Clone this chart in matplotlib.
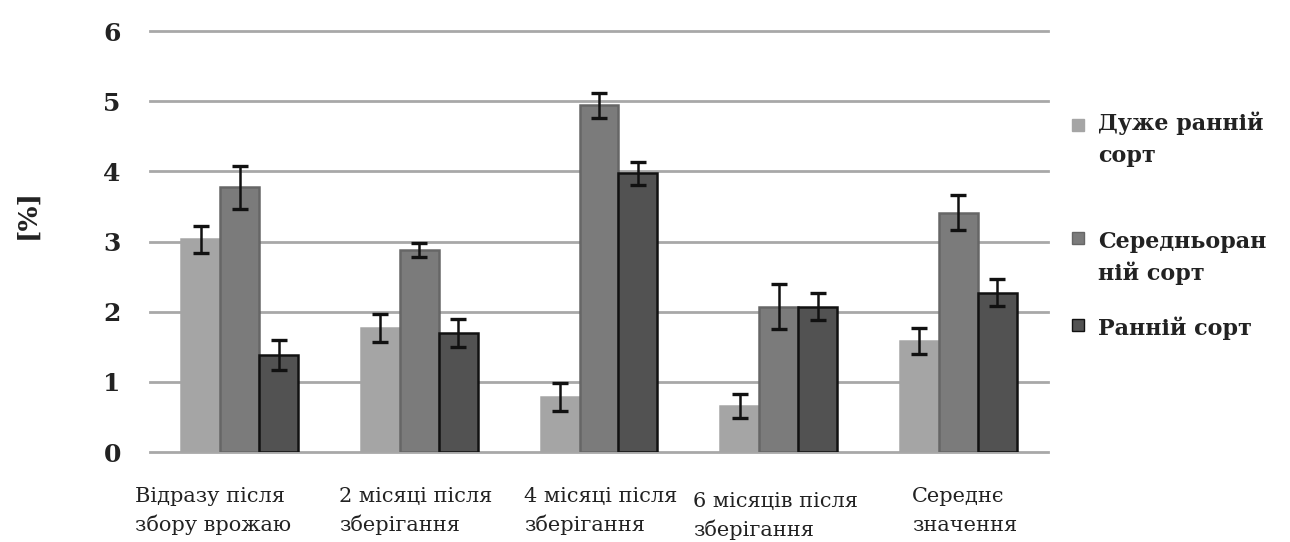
import numpy as np
import matplotlib
matplotlib.use('Agg')
import matplotlib.pyplot as plt
import matplotlib.patches as mpatches

# categories and series
categories = ['Відразу після\nзбору врожаю', '2 місяці після\nзберігання', '4 місяці після\nзберігання',
              '6 місяців після\nзберігання', 'Середнє\nзначення']
series_names = ['Дуже ранній\nсорт', 'Середньоран\nній сорт', 'Ранній сорт']
very_early = [3.03, 1.77, 0.79, 0.66, 1.58]
very_early_err = [0.19, 0.2, 0.2, 0.17, 0.19]
mid_early = [3.77, 2.88, 4.94, 2.07, 3.41]
mid_early_err = [0.3, 0.1, 0.18, 0.32, 0.25]
early = [1.38, 1.70, 3.97, 2.07, 2.27]
early_err = [0.21, 0.2, 0.16, 0.19, 0.19]
y_ticks = [0, 1, 2, 3, 4, 5, 6]

colors = ['#a5a5a5', '#7b7b7b', '#525252']
edges = ['#a5a5a5', '#666666', '#111111']
txt_color = '#222222'
W, H = 1290, 542

plt.rcParams['font.family'] = ['DejaVu Serif']

fig = plt.figure(figsize=(W / 100, H / 100), dpi=100)
ax = fig.add_axes([150 / W, 1 - 452 / H, 898 / W, 421 / H])

x = np.arange(len(categories))
w = 0.217
data = [(very_early, very_early_err), (mid_early, mid_early_err), (early, early_err)]
for i, (vals, errs) in enumerate(data):
    ax.bar(x + (i - 1) * w, vals, w, color=colors[i], edgecolor=edges[i], linewidth=1.8,
           yerr=errs, error_kw=dict(ecolor='#111111', elinewidth=1.8, capsize=6, capthick=2.4),
           zorder=3)

ax.set_xlim(-0.5, len(categories) - 0.5)
ax.set_ylim(0, 6)
ax.set_yticks(y_ticks)
ax.set_yticklabels([str(t) for t in y_ticks], fontsize=18, fontweight='bold', color=txt_color)
ax.tick_params(axis='y', length=0, pad=21)
ax.tick_params(axis='x', length=0, labelbottom=False)
for s in ax.spines.values():
    s.set_visible(False)
ax.yaxis.grid(True, color='#a8a8a8', linewidth=2.0, zorder=0)
ax.set_axisbelow(True)
for g in ax.get_ygridlines():
    g.set_clip_on(False)

ax.set_ylabel('[%]', fontsize=19, fontweight='bold', color=txt_color)
ax.yaxis.label.set_verticalalignment('center')
ax.yaxis.set_label_coords((27 - 150) / 898, (452 - 214) / 421)

# category labels under the groups (Excel-style wrapped text, left aligned)
label_dx = [-105, -80, -75, -86, -46]
label_dy = [0, 0, 0, 5, 0]
for i, lab in enumerate(categories):
    for j, line in enumerate(lab.split('\n')):
        ax.annotate(line, xy=(x[i], 0), xycoords='data',
                    xytext=(label_dx[i], -50 - label_dy[i] - 29 * j),
                    textcoords='offset pixels', ha='left', va='baseline',
                    fontsize=15, color=txt_color, annotation_clip=False)

# legend drawn by hand so the marker sits on the first line of each entry
leg_base = [130, 248, 335]
for i, name in enumerate(series_names):
    for j, line in enumerate(name.split('\n')):
        fig.text(1098 / W, 1 - (leg_base[i] + 32 * j) / H, line, ha='left', va='baseline',
                 fontsize=16, fontweight='bold', color=txt_color)
    my = leg_base[i] - 5 if i == 0 else leg_base[i] - 10
    fig.add_artist(mpatches.Rectangle((1072 / W, 1 - (my + 6) / H), 12 / W, 12 / H,
                                      facecolor=colors[i], edgecolor=edges[i], linewidth=1,
                                      transform=fig.transFigure))

fig.savefig('out.png', dpi=100)
